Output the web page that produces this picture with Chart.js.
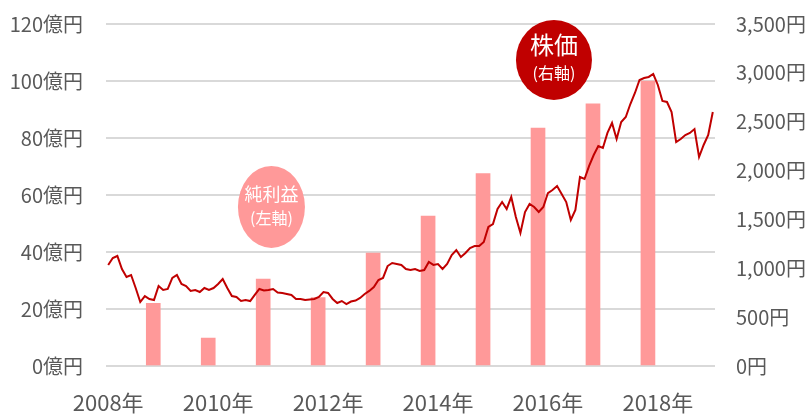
<!DOCTYPE html>
<html>
<head>
<meta charset="utf-8">
<script src="https://cdn.jsdelivr.net/npm/chart.js@4"></script>
<style>
  body { margin: 0; background: #fff; }
  #wrap { width: 809px; height: 419px; position: relative; }
</style>
</head>
<body>
<div id="wrap"><canvas id="myChart"></canvas></div>
<script>
// 年ラベル（横軸）
const yearTicks = [2008, 2010, 2012, 2014, 2016, 2018];

// 純利益（億円）- 各年度の棒
const profitYears = [2008.82, 2009.82, 2010.82, 2011.82, 2012.82, 2013.82, 2014.82, 2015.82, 2016.82, 2017.82];
const profitValues = [22, 9.8, 30.5, 24, 39.6, 52.6, 67.5, 83.5, 92, 100];

// 株価（円）- 2008年1月から2019年1月までの月次
const priceStart = 2008;
const priceValues = [
  1034, 1105, 1126, 993, 911, 931, 798, 655, 716, 686, 675, 819,
  778, 788, 901, 931, 839, 819, 768, 778, 757, 798, 778, 798,
  839, 890, 798, 716, 706, 665, 675, 665, 727, 788, 773, 778,
  788, 752, 747, 737, 727, 686, 686, 675, 681, 686, 706, 757,
  747, 686, 645, 665, 634, 660, 670, 696, 737, 768, 808, 880,
  901, 1023, 1054, 1044, 1034, 993, 982, 993, 972, 982, 1064, 1034,
  1044, 993, 1044, 1136, 1187, 1116, 1156, 1208, 1228, 1228, 1269, 1423,
  1453, 1607, 1678, 1607, 1730, 1525, 1361, 1576, 1658, 1627, 1576, 1627,
  1770, 1801, 1842, 1760, 1678, 1494, 1597, 1934, 1914, 2047, 2159, 2251,
  2231, 2385, 2487, 2323, 2497, 2548, 2681, 2794, 2927, 2947, 2958, 2988,
  2876, 2712, 2702, 2599, 2292, 2323, 2364, 2385, 2425, 2139, 2262, 2364,
  2599
];

const labelFont = '"Noto Sans CJK JP", "Noto Sans", sans-serif';
const textColor = '#595959';

const profitData = profitYears.map((x, i) => ({ x: x, y: profitValues[i] }));
const priceData = priceValues.map((v, i) => ({ x: priceStart + i / 12, y: v }));

// 吹き出し（丸いラベル）
const badgePlugin = {
  id: 'badges',
  afterDatasetsDraw(chart) {
    const c = chart.ctx;
    const xs = chart.scales.x;
    const yl = chart.scales.yLeft;

    function badge(xv, yv, rx, ry, color, title, titleSize, sub, dy1, dy2) {
      const cx = xs.getPixelForValue(xv);
      const cy = yl.getPixelForValue(yv);
      c.save();
      c.fillStyle = color;
      c.beginPath();
      c.ellipse(cx, cy, rx, ry, 0, 0, Math.PI * 2);
      c.fill();
      c.fillStyle = '#fff';
      c.textAlign = 'center';
      c.textBaseline = 'middle';
      c.font = titleSize + 'px ' + labelFont;
      c.fillText(title, cx, cy + dy1);
      c.font = '16px ' + labelFont;
      c.fillText(sub, cx, cy + dy2);
      c.restore();
    }

    badge(2010.97, 55.8, 33.5, 41, '#ff9999', '純利益', 18, '(左軸)', -13, 11);
    badge(2016.11, 107.4, 38, 40, '#c00000', '株価', 24, '(右軸)', -15, 13);
  }
};

// 縦軸の幅を固定し、ラベル用の上下余白を消す
function fixYAxis(width) {
  return (scale) => {
    scale.width = width;
    scale.paddingTop = 0;
    scale.paddingBottom = 0;
  };
}

const chart = new Chart(document.getElementById('myChart'), {
  type: 'bar',
  data: {
    datasets: [
      {
        type: 'line',
        label: '株価',
        data: priceData,
        yAxisID: 'yRight',
        borderColor: '#c00000',
        borderWidth: 2,
        pointRadius: 0,
        tension: 0,
        fill: false,
        order: 0,
      },
      {
        type: 'bar',
        label: '純利益',
        data: profitData,
        yAxisID: 'yLeft',
        backgroundColor: '#ff9999',
        barThickness: 14,
        order: 1,
      },
    ],
  },
  options: {
    responsive: true,
    maintainAspectRatio: false,
    animation: false,
    layout: { autoPadding: false, padding: { top: 24, left: 0, right: 0, bottom: 0 } },
    plugins: {
      legend: { display: false },
      tooltip: { enabled: false },
    },
    scales: {
      x: {
        type: 'linear',
        offset: false,
        min: 2007.96,
        max: 2019.04,
        grid: { display: false, drawTicks: false },
        border: { display: false },
        afterBuildTicks: (scale) => {
          scale.ticks = yearTicks.map(v => ({ value: v }));
        },
        afterFit: (scale) => {
          scale.height = 53;
          scale.paddingLeft = 0;
          scale.paddingRight = 0;
        },
        ticks: {
          padding: 23,
          color: textColor,
          font: { family: labelFont, size: 22 },
          maxRotation: 0,
          autoSkip: false,
          callback: (v) => v + '年',
        },
      },
      yLeft: {
        position: 'left',
        min: 0,
        max: 120,
        afterFit: fixYAxis(106),
        grid: { color: '#d9d9d9', lineWidth: 2, drawTicks: false },
        border: { display: false },
        ticks: {
          stepSize: 20,
          padding: 23,
          color: textColor,
          font: { family: labelFont, size: 20 },
          callback: (v) => v + '億円',
        },
      },
      yRight: {
        position: 'right',
        min: 0,
        max: 3500,
        afterFit: fixYAxis(94),
        grid: { display: false, drawTicks: false },
        border: { display: false },
        ticks: {
          stepSize: 500,
          padding: 21,
          color: textColor,
          font: { family: labelFont, size: 20 },
          callback: (v) => v.toLocaleString('en-US') + '円',
        },
      },
    },
  },
  plugins: [badgePlugin],
});
</script>
</body>
</html>
